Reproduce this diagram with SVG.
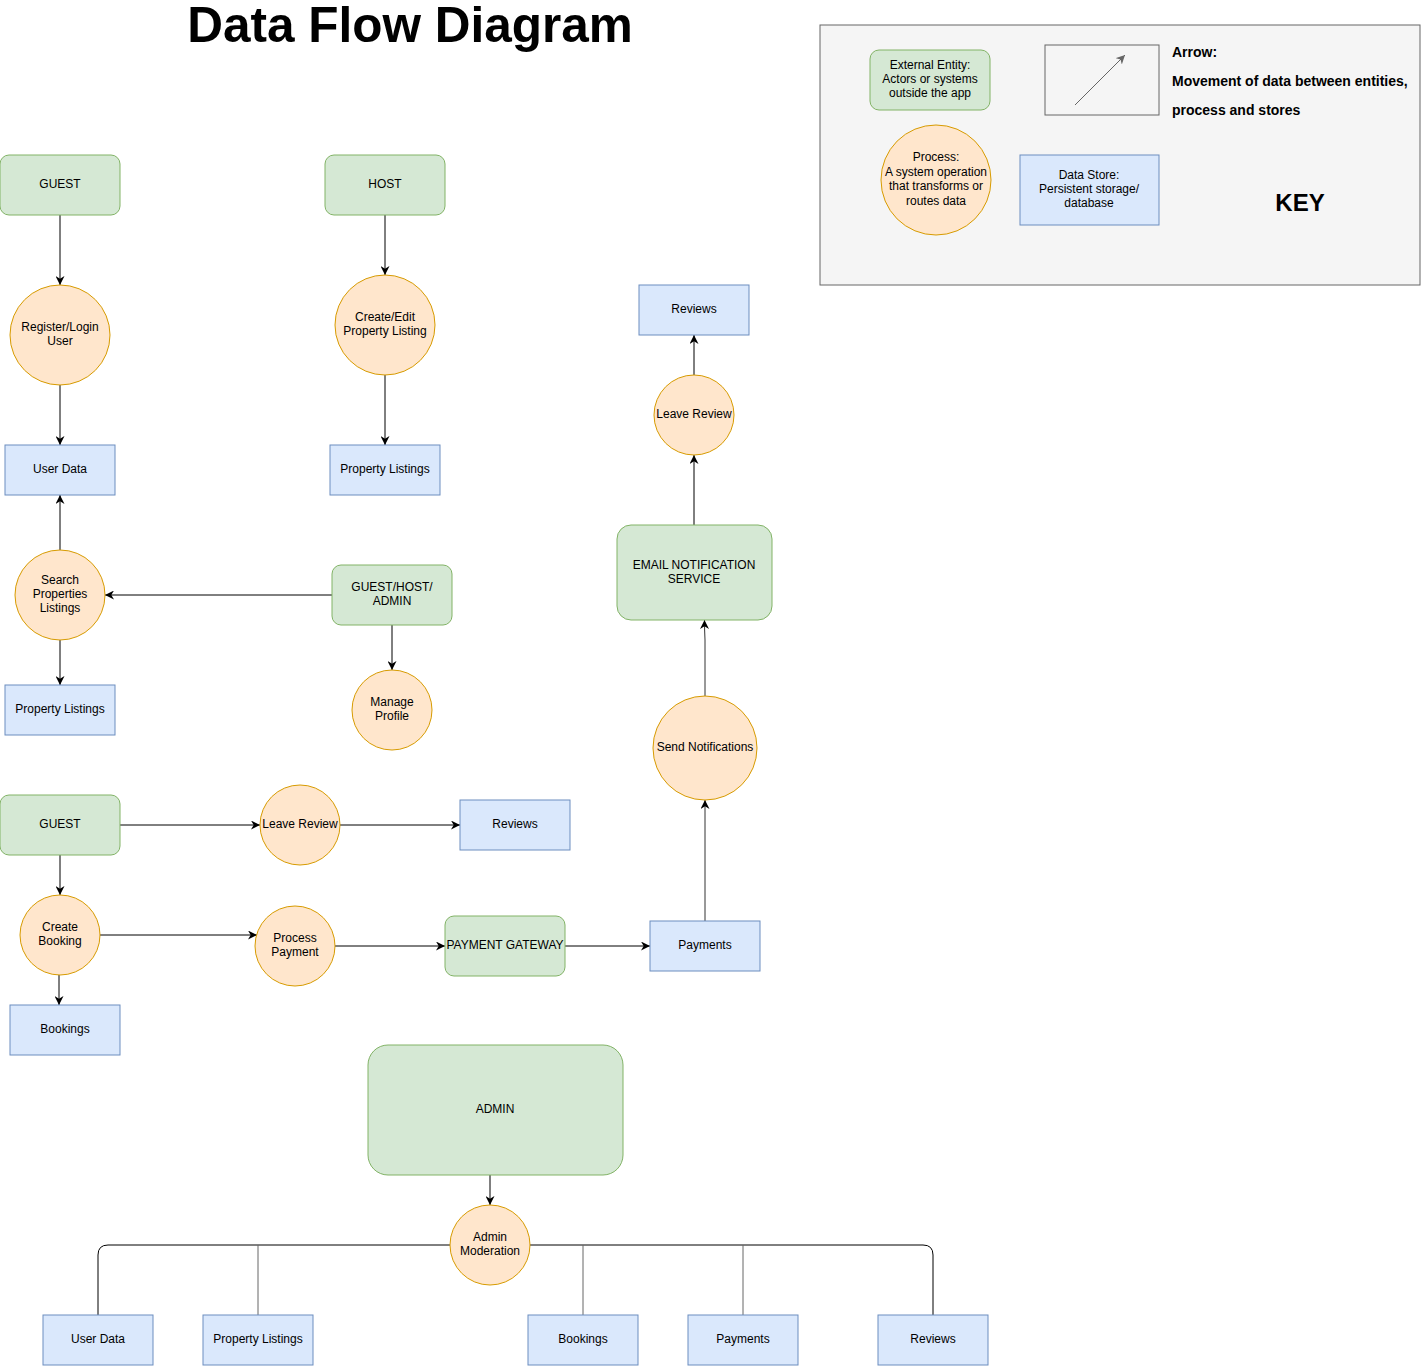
<svg xmlns="http://www.w3.org/2000/svg" width="1421" height="1366" viewBox="0 0 1421 1366">
<defs>
<marker id="arr" viewBox="0 0 10 10" refX="10" refY="5" markerWidth="9" markerHeight="9" markerUnits="userSpaceOnUse" orient="auto">
<path d="M0,0 L10,5 L0,10 L3,5 z" fill="#000"/>
</marker>
<marker id="arrg" viewBox="0 0 10 10" refX="10" refY="5" markerWidth="9" markerHeight="9" markerUnits="userSpaceOnUse" orient="auto">
<path d="M0,0 L10,5 L0,10 L3,5 z" fill="#666"/>
</marker>
<style>
.ent{fill:#d5e8d4;stroke:#82b366;stroke-width:1}
.proc{fill:#ffe6cc;stroke:#d79b00;stroke-width:1}
.store{fill:#dae8fc;stroke:#6c8ebf;stroke-width:1}
.t{font-family:"Liberation Sans",Arial,sans-serif;font-size:12px;fill:#000;text-anchor:middle}
.c{fill:none;stroke:#000;stroke-width:1;marker-end:url(#arr)}
.b{fill:none;stroke:#000;stroke-width:1}
.bg{fill:none;stroke:#666;stroke-width:1}
.bold{font-family:"Liberation Sans",Arial,sans-serif;font-weight:bold;fill:#000}
</style>
</defs>
<rect width="1421" height="1366" fill="#fff"/>

<text class="bold" x="410" y="42" font-size="49.5" text-anchor="middle">Data Flow Diagram</text>

<g id="key">
<rect x="820" y="25" width="600" height="260" fill="#f5f5f5" stroke="#666"/>
<rect class="ent" x="870" y="50" width="120" height="60" rx="9"/>
<text class="t" x="930" y="69">External Entity:</text>
<text class="t" x="930" y="83">Actors or systems</text>
<text class="t" x="930" y="97">outside the app</text>
<circle class="proc" cx="936" cy="180" r="55"/>
<text class="t" x="936" y="161">Process:</text>
<text class="t" x="936" y="176">A system operation</text>
<text class="t" x="936" y="190">that transforms or</text>
<text class="t" x="936" y="205">routes data</text>
<rect x="1045" y="45" width="114" height="70" fill="#f5f5f5" stroke="#666"/>
<line x1="1075" y1="105" x2="1125" y2="55" stroke="#666" marker-end="url(#arrg)"/>
<rect class="store" x="1020" y="155" width="139" height="70"/>
<text class="t" x="1089" y="179">Data Store:</text>
<text class="t" x="1089" y="193">Persistent storage/</text>
<text class="t" x="1089" y="207">database</text>
<text class="bold" x="1172" y="57" font-size="14">Arrow:</text>
<text class="bold" x="1172" y="86" font-size="14">Movement of data between entities,</text>
<text class="bold" x="1172" y="115" font-size="14">process and stores</text>
<text class="bold" x="1300" y="211" font-size="24" text-anchor="middle">KEY</text>
</g>

<g id="connectors">
<line class="c" x1="60" y1="215" x2="60" y2="285"/>
<line class="c" x1="60" y1="385" x2="60" y2="445"/>
<line class="c" x1="385" y1="215" x2="385" y2="275"/>
<line class="c" x1="385" y1="375" x2="385" y2="445"/>
<line class="c" x1="60" y1="550" x2="60" y2="495"/>
<line class="c" x1="60" y1="640" x2="60" y2="685"/>
<line class="c" x1="332" y1="595" x2="105" y2="595"/>
<line class="c" x1="392" y1="625" x2="392" y2="670"/>
<line class="c" x1="120" y1="825" x2="260" y2="825"/>
<line class="c" x1="340" y1="825" x2="460" y2="825"/>
<line class="c" x1="60" y1="855" x2="60" y2="895"/>
<line class="c" x1="59" y1="975" x2="59" y2="1005"/>
<line class="c" x1="100" y1="935" x2="257" y2="935"/>
<line class="c" x1="335" y1="946" x2="445" y2="946"/>
<line class="c" x1="565" y1="946" x2="650" y2="946"/>
<line class="c" x1="705" y1="921" x2="705" y2="800" style="stroke:#333"/>
<path class="c" d="M705,696 L705,640 Q704.5,630 704.5,620" style="stroke:#333"/>
<line class="c" x1="694" y1="525" x2="694" y2="455"/>
<line class="c" x1="694" y1="375" x2="694" y2="335"/>
<line class="c" x1="490" y1="1175" x2="490" y2="1205"/>
<path class="b" d="M450,1245 L108,1245 Q98,1245 98,1255 L98,1315"/>
<path class="b" d="M530,1245 L923,1245 Q933,1245 933,1255 L933,1315"/>
<line class="bg" x1="258" y1="1245" x2="258" y2="1315"/>
<line class="bg" x1="583" y1="1245" x2="583" y2="1315"/>
<line class="bg" x1="743" y1="1245" x2="743" y2="1315"/>
</g>

<g id="guest1"><rect class="ent" x="0" y="155" width="120" height="60" rx="9"/><text class="t" x="60" y="188">GUEST</text></g>
<g id="host"><rect class="ent" x="325" y="155" width="120" height="60" rx="9"/><text class="t" x="385" y="188">HOST</text></g>
<g id="register"><circle class="proc" cx="60" cy="335" r="50"/><text class="t" x="60" y="331">Register/Login</text><text class="t" x="60" y="345">User</text></g>
<g id="createEdit"><circle class="proc" cx="385" cy="325" r="50"/><text class="t" x="385" y="321">Create/Edit</text><text class="t" x="385" y="335">Property Listing</text></g>
<g id="userData1"><rect class="store" x="5" y="445" width="110" height="50"/><text class="t" x="60" y="473">User Data</text></g>
<g id="propListings1"><rect class="store" x="330" y="445" width="110" height="50"/><text class="t" x="385" y="473">Property Listings</text></g>
<g id="search"><circle class="proc" cx="60" cy="595" r="45"/><text class="t" x="60" y="584">Search</text><text class="t" x="60" y="598">Properties</text><text class="t" x="60" y="612">Listings</text></g>
<g id="ghAdmin"><rect class="ent" x="332" y="565" width="120" height="60" rx="9"/><text class="t" x="392" y="591">GUEST/HOST/</text><text class="t" x="392" y="605">ADMIN</text></g>
<g id="manageProfile"><circle class="proc" cx="392" cy="710" r="40"/><text class="t" x="392" y="706">Manage</text><text class="t" x="392" y="720">Profile</text></g>
<g id="propListings2"><rect class="store" x="5" y="685" width="110" height="50"/><text class="t" x="60" y="713">Property Listings</text></g>

<g id="reviewsTop"><rect class="store" x="639" y="285" width="110" height="50"/><text class="t" x="694" y="313">Reviews</text></g>
<g id="leaveReview2"><circle class="proc" cx="694" cy="415" r="40"/><text class="t" x="694" y="418">Leave Review</text></g>
<g id="email"><rect class="ent" x="617" y="525" width="155" height="95" rx="14"/><text class="t" x="694" y="569">EMAIL NOTIFICATION</text><text class="t" x="694" y="583">SERVICE</text></g>
<g id="sendNotif"><circle class="proc" cx="705" cy="748" r="52"/><text class="t" x="705" y="751">Send Notifications</text></g>
<g id="payments1"><rect class="store" x="650" y="921" width="110" height="50"/><text class="t" x="705" y="949">Payments</text></g>

<g id="guest2"><rect class="ent" x="0" y="795" width="120" height="60" rx="9"/><text class="t" x="60" y="828">GUEST</text></g>
<g id="leaveReview1"><circle class="proc" cx="300" cy="825" r="40"/><text class="t" x="300" y="828">Leave Review</text></g>
<g id="reviewsMid"><rect class="store" x="460" y="800" width="110" height="50"/><text class="t" x="515" y="828">Reviews</text></g>
<g id="createBooking"><circle class="proc" cx="60" cy="935" r="40"/><text class="t" x="60" y="931">Create</text><text class="t" x="60" y="945">Booking</text></g>
<g id="processPayment"><circle class="proc" cx="295" cy="946" r="40"/><text class="t" x="295" y="942">Process</text><text class="t" x="295" y="956">Payment</text></g>
<g id="gateway"><rect class="ent" x="445" y="916" width="120" height="60" rx="9"/><text class="t" x="505" y="949">PAYMENT GATEWAY</text></g>
<g id="bookings1"><rect class="store" x="10" y="1005" width="110" height="50"/><text class="t" x="65" y="1033">Bookings</text></g>

<g id="admin"><rect class="ent" x="368" y="1045" width="255" height="130" rx="20"/><text class="t" x="495" y="1113">ADMIN</text></g>
<g id="adminMod"><circle class="proc" cx="490" cy="1245" r="40"/><text class="t" x="490" y="1241">Admin</text><text class="t" x="490" y="1255">Moderation</text></g>
<g id="userData2"><rect class="store" x="43" y="1315" width="110" height="50"/><text class="t" x="98" y="1343">User Data</text></g>
<g id="propListings3"><rect class="store" x="203" y="1315" width="110" height="50"/><text class="t" x="258" y="1343">Property Listings</text></g>
<g id="bookings2"><rect class="store" x="528" y="1315" width="110" height="50"/><text class="t" x="583" y="1343">Bookings</text></g>
<g id="payments2"><rect class="store" x="688" y="1315" width="110" height="50"/><text class="t" x="743" y="1343">Payments</text></g>
<g id="reviews3"><rect class="store" x="878" y="1315" width="110" height="50"/><text class="t" x="933" y="1343">Reviews</text></g>
</svg>
